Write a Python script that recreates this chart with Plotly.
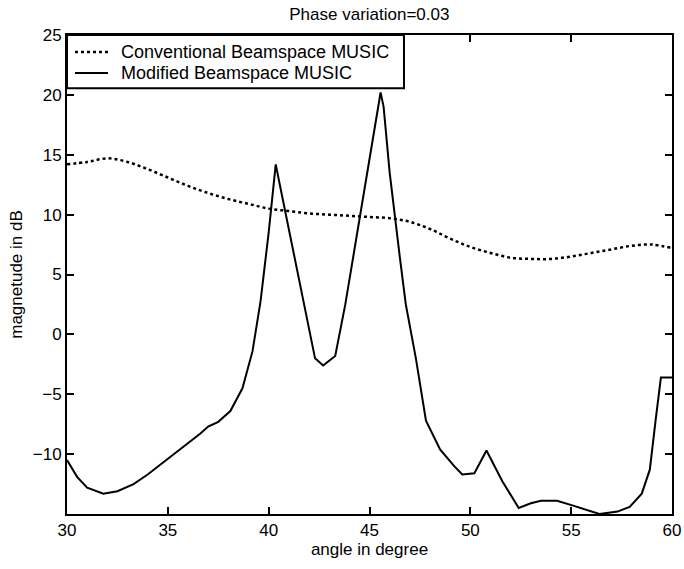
import plotly.graph_objects as go

# Conventional Beamspace MUSIC (dotted)
conv_angle = [30, 31, 32, 33, 34, 35, 36, 37, 38, 39, 40, 41, 42, 43, 44, 45,
              46, 47, 48, 49, 50, 51, 52, 53, 54, 55, 56, 57, 58, 59, 60]
conv_db = [14.2, 14.4, 14.7, 14.4, 13.8, 13.1, 12.4, 11.8, 11.3, 10.9, 10.5,
           10.3, 10.1, 10.0, 9.9, 9.8, 9.7, 9.4, 8.8, 8.0, 7.3, 6.8, 6.4, 6.3,
           6.3, 6.5, 6.8, 7.1, 7.4, 7.5, 7.2]

# Modified Beamspace MUSIC (solid)
mod_angle = [30.0, 30.5, 31.0, 31.8, 32.5, 33.3, 34.0, 35.0, 36.0, 36.6, 37.0,
             37.5, 38.1, 38.7, 39.2, 39.6, 40.0, 40.35, 40.6, 41.0, 41.5, 42.0,
             42.3, 42.7, 43.3, 43.8, 44.4, 45.0, 45.55, 45.7, 46.0, 46.5, 46.8,
             47.3, 47.8, 48.5, 49.2, 49.6, 50.2, 50.8, 51.6, 52.4, 53.0, 53.5,
             54.3, 55.1, 56.4, 57.3, 57.9, 58.5, 58.9, 59.2, 59.45, 60.0]
mod_db = [-10.5, -11.9, -12.8, -13.3, -13.1, -12.5, -11.7, -10.4, -9.1, -8.3,
          -7.7, -7.3, -6.4, -4.5, -1.4, 2.8, 8.5, 14.2, 12.1, 8.8, 4.6, 0.3,
          -2.0, -2.6, -1.8, 2.5, 8.5, 14.5, 20.2, 19.0, 13.5, 6.5, 2.5, -2.0,
          -7.2, -9.6, -11.0, -11.7, -11.6, -9.7, -12.3, -14.5, -14.1, -13.9,
          -13.9, -14.3, -15.0, -14.8, -14.4, -13.3, -11.3, -7.0, -3.6, -3.6]

series_names = ["Conventional Beamspace MUSIC", "Modified Beamspace MUSIC"]
x_ticks = [30, 35, 40, 45, 50, 55, 60]
y_ticks = [-10, -5, 0, 5, 10, 15, 20, 25]

FONT = "Liberation Sans, Arial, sans-serif"

fig = go.Figure()
fig.add_trace(go.Scatter(x=conv_angle, y=conv_db, mode="lines",
                         name=series_names[0], showlegend=False,
                         line=dict(color="black", width=2.5, dash="dot", shape="spline")))
fig.add_trace(go.Scatter(x=mod_angle, y=mod_db, mode="lines",
                         name=series_names[1], showlegend=False,
                         line=dict(color="black", width=2)))

axis_common = dict(showline=True, linecolor="black", linewidth=2, mirror="ticks",
                   ticks="inside", ticklen=7, tickwidth=1.5, tickcolor="black",
                   showgrid=False, zeroline=False, automargin=False,
                   tickfont=dict(family=FONT, size=17, color="black"))

# legend box (paper coordinates)
box_x1 = 0.557
box_y0 = 0.889
row_y = [0.9645, 0.9207]
sample_dash = ["dot", "solid"]
sample_width = [2.5, 2]

shapes = [dict(type="rect", xref="paper", yref="paper", x0=0, x1=box_x1,
               y0=box_y0, y1=1, line=dict(color="black", width=2),
               fillcolor="white", layer="above")]
annotations = []
for name, yy, dsh, w in zip(series_names, row_y, sample_dash, sample_width):
    shapes.append(dict(type="line", xref="paper", yref="paper",
                       x0=0.0132, x1=0.0678, y0=yy, y1=yy, layer="above",
                       line=dict(color="black", width=w, dash=dsh)))
    annotations.append(dict(xref="paper", yref="paper", x=0.0860, y=yy,
                            xanchor="left", yanchor="middle", showarrow=False,
                            text=name, font=dict(family=FONT, size=18, color="black")))

fig.update_layout(
    width=684, height=569,
    margin=dict(l=67, r=12, t=35, b=55, autoexpand=False),
    paper_bgcolor="white", plot_bgcolor="white",
    title=dict(text="Phase variation=0.03", x=0.54, xanchor="center", y=0.975,
               yanchor="middle", font=dict(family=FONT, size=17, color="black")),
    xaxis=dict(range=[30, 60], tickvals=x_ticks,
               title=dict(text="angle in degree", standoff=4,
                          font=dict(family=FONT, size=17, color="black")),
               **axis_common),
    yaxis=dict(range=[-15, 25], tickvals=y_ticks,
               title=dict(text="magnetude in dB", standoff=6,
                          font=dict(family=FONT, size=17, color="black")),
               **axis_common),
    shapes=shapes,
    annotations=annotations,
    showlegend=False,
)

fig.write_html("out.html")
